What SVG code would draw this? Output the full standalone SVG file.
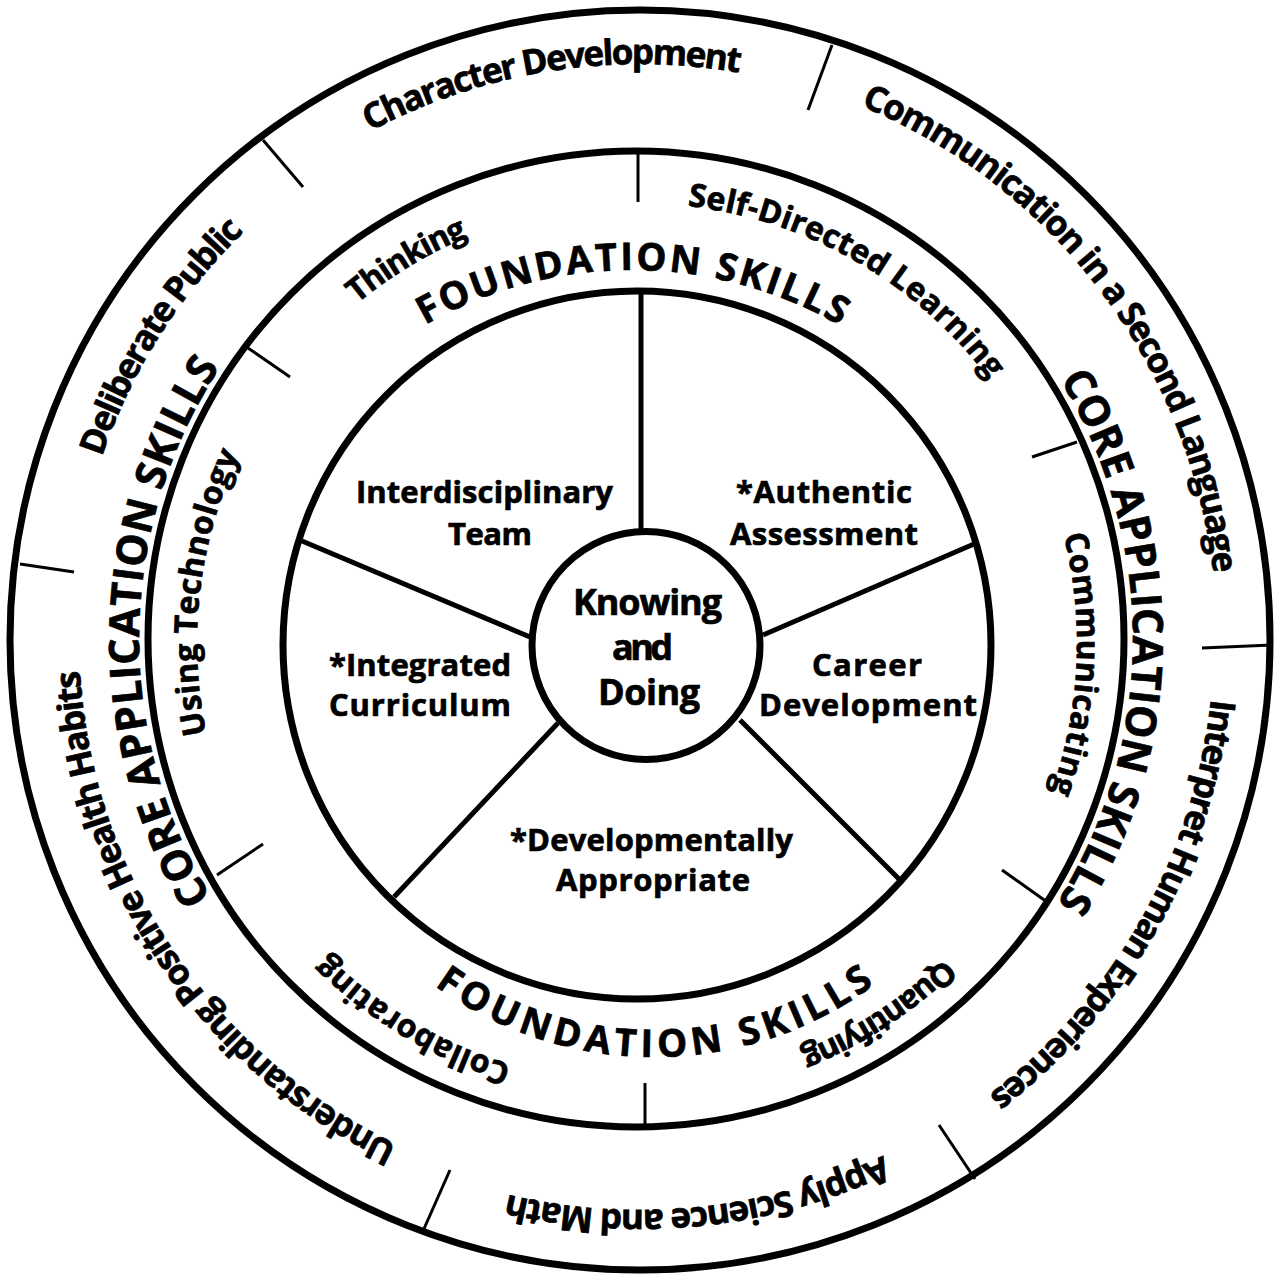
<svg xmlns="http://www.w3.org/2000/svg" xmlns:xlink="http://www.w3.org/1999/xlink" width="1277" height="1282" viewBox="0 0 1277 1282">
  <style>
    text { font-family: "Open Sans", "Liberation Sans", sans-serif; font-weight: 700; fill: #000; stroke: #000; stroke-width: 0.7px; }
    .ring { fill: none; stroke: #000; stroke-width: 7; }
    .spoke { stroke: #000; stroke-width: 5; stroke-linecap: butt; }
    .tick { stroke: #000; stroke-width: 3; }
    .o { font-size: 35px; }
    .c { font-size: 42px; }
    .f { font-size: 38px; }
    .s { font-size: 32px; }
    .w { font-size: 31px; }
    .k { font-size: 36px; }
  </style>
  <defs>
    <!-- baseline circles for curved labels, each starting at 12 o'clock -->
    <path id="p575" d="M640,64 A575,575 0 0 1 640,1214 A575,575 0 0 1 640,64"/>
    <path id="p577" d="M640,62 A577,577 0 0 1 640,1216 A577,577 0 0 1 640,62"/>
    <path id="p574" d="M640,65 A574,574 0 0 1 640,1213 A574,574 0 0 1 640,65"/>
    <path id="p571" d="M640,68 A571,571 0 0 1 640,1210 A571,571 0 0 1 640,68"/>
    <path id="p561" d="M640,78 A561,561 0 0 1 640,1200 A561,561 0 0 1 640,78"/>
    <path id="p568" d="M640,71 A568,568 0 0 1 640,1207 A568,568 0 0 1 640,71"/>
    <path id="pCore" d="M636,142 A497,497 0 0 1 636,1136 A497,497 0 0 1 636,142"/>
    <path id="pFnd" d="M637,203 A440,440 0 0 1 637,1083 A440,440 0 0 1 637,203"/>
    <path id="pTop" d="M632,270 A416,416 0 0 1 632,1102 A416,416 0 0 1 632,270"/>
    <!-- counter-clockwise circle starting at 6 o'clock, for the upright lower label -->
    <path id="pBot" d="M654,1057 A373,373 0 0 0 654,311 A373,373 0 0 0 654,1057"/>
  </defs>

  <rect width="1277" height="1282" fill="#fff"/>

  <!-- rings -->
  <g id="rings">
    <circle id="outer-ring" class="ring" cx="640" cy="640" r="630"/>
    <circle id="core-ring" class="ring" cx="636" cy="639" r="488"/>
    <circle id="foundation-ring" class="ring" cx="637" cy="645" r="354"/>
  </g>

  <!-- connectors: wheel spokes and ring dividers -->
  <g id="connectors">
    <line class="spoke" x1="641" y1="290" x2="641" y2="532"/>
    <line class="spoke" x1="302" y1="541" x2="530" y2="637"/>
    <line class="spoke" x1="763" y1="635" x2="974" y2="544"/>
    <line class="spoke" x1="558" y1="723" x2="394" y2="897"/>
    <line class="spoke" x1="740" y1="720" x2="901" y2="881"/>

    <line class="tick" x1="263" y1="140" x2="303" y2="187"/>
    <line class="tick" x1="832" y1="45" x2="808" y2="110"/>
    <line class="tick" x1="1273" y1="645" x2="1202" y2="648"/>
    <line class="tick" x1="975" y1="1179" x2="939" y2="1125"/>
    <line class="tick" x1="423" y1="1231" x2="450" y2="1170"/>
    <line class="tick" x1="20" y1="564" x2="74" y2="572"/>

    <line class="tick" x1="638" y1="151" x2="638" y2="202"/>
    <line class="tick" x1="248" y1="348" x2="290" y2="377"/>
    <line class="tick" x1="1077" y1="442" x2="1032" y2="457"/>
    <line class="tick" x1="1047" y1="902" x2="1002" y2="870"/>
    <line class="tick" x1="645" y1="1125" x2="645" y2="1083"/>
    <line class="tick" x1="217" y1="875" x2="263" y2="844"/>
  </g>

  <!-- outer ring labels -->
  <g id="character-development"><text class="o" transform="rotate(-28 640 639)"><textPath href="#p575" xlink:href="#p575" textLength="381" lengthAdjust="spacing">Character Development</textPath></text></g>
  <g id="second-language"><text class="o" transform="rotate(22.5 640 639)"><textPath href="#p577" xlink:href="#p577" textLength="614" lengthAdjust="spacing">Communication in a Second Language</textPath></text></g>
  <g id="human-experiences"><text class="o" transform="rotate(96 640 639)"><textPath href="#p574" xlink:href="#p574" textLength="467" lengthAdjust="spacing">Interpret Human Experiences</textPath></text></g>
  <g id="science-math"><text class="o" transform="rotate(154.8 640 639)"><textPath href="#p571" xlink:href="#p571" textLength="385" lengthAdjust="spacing">Apply Science and Math</textPath></text></g>
  <g id="health-habits"><text class="o" transform="rotate(205.6 640 639)"><textPath href="#p561" xlink:href="#p561" textLength="599" lengthAdjust="spacing">Understanding Positive Health Habits</textPath></text></g>
  <g id="deliberate-public"><text class="o" transform="rotate(288.7 640 639)"><textPath href="#p568" xlink:href="#p568" textLength="269" lengthAdjust="spacing">Deliberate Public</textPath></text></g>

  <!-- core application skills labels -->
  <g id="core-right"><text class="c" transform="rotate(58.5 636 639)"><textPath href="#pCore" xlink:href="#pCore" textLength="552" lengthAdjust="spacing">CORE APPLICATION SKILLS</textPath></text></g>
  <g id="core-left"><text class="c" transform="rotate(238.7 636 639)"><textPath href="#pCore" xlink:href="#pCore" textLength="559" lengthAdjust="spacing">CORE APPLICATION SKILLS</textPath></text></g>

  <!-- foundation ring labels -->
  <g id="foundation-top"><text class="f" transform="rotate(-29.8 632 686)"><textPath href="#pTop" xlink:href="#pTop" textLength="434" lengthAdjust="spacing">FOUNDATION SKILLS</textPath></text></g>
  <g id="foundation-bottom"><text class="f" transform="rotate(36 654 684)"><textPath href="#pBot" xlink:href="#pBot" textLength="470" lengthAdjust="spacing">FOUNDATION SKILLS</textPath></text></g>
  <g id="thinking"><text class="s" transform="rotate(-39.5 637 643)"><textPath href="#pFnd" xlink:href="#pFnd" textLength="130" lengthAdjust="spacing">Thinking</textPath></text></g>
  <g id="self-directed"><text class="s" transform="rotate(6.6 637 643)"><textPath href="#pFnd" xlink:href="#pFnd" textLength="358" lengthAdjust="spacing">Self-Directed Learning</textPath></text></g>
  <g id="communicating"><text class="s" transform="rotate(75.8 637 643)"><textPath href="#pFnd" xlink:href="#pFnd" textLength="261" lengthAdjust="spacing">Communicating</textPath></text></g>
  <g id="quantifying"><text class="s" transform="rotate(135.8 637 643)"><textPath href="#pFnd" xlink:href="#pFnd" textLength="172" lengthAdjust="spacing">Quantifying</textPath></text></g>
  <g id="collaborating"><text class="s" transform="rotate(196.6 637 643)"><textPath href="#pFnd" xlink:href="#pFnd" textLength="217" lengthAdjust="spacing">Collaborating</textPath></text></g>
  <g id="using-technology"><text class="s" transform="rotate(258.1 637 643)"><textPath href="#pFnd" xlink:href="#pFnd" textLength="286" lengthAdjust="spacing">Using Technology</textPath></text></g>

  <!-- wheel segments -->
  <g id="interdisciplinary-team">
    <text class="w" x="356" y="503" textLength="257" lengthAdjust="spacing">Interdisciplinary</text>
    <text class="w" x="448" y="545" textLength="84" lengthAdjust="spacing">Team</text>
  </g>
  <g id="authentic-assessment">
    <text class="w" x="736" y="503" textLength="176" lengthAdjust="spacing">*Authentic</text>
    <text class="w" x="730" y="545" textLength="188" lengthAdjust="spacing">Assessment</text>
  </g>
  <g id="integrated-curriculum">
    <text class="w" x="329" y="676" textLength="182" lengthAdjust="spacing">*Integrated</text>
    <text class="w" x="329" y="716" textLength="182" lengthAdjust="spacing">Curriculum</text>
  </g>
  <g id="career-development">
    <text class="w" x="812" y="676" textLength="110" lengthAdjust="spacing">Career</text>
    <text class="w" x="759" y="716" textLength="218" lengthAdjust="spacing">Development</text>
  </g>
  <g id="developmentally-appropriate">
    <text class="w" x="510" y="851" textLength="283" lengthAdjust="spacing">*Developmentally</text>
    <text class="w" x="556" y="891" textLength="194" lengthAdjust="spacing">Appropriate</text>
  </g>

  <!-- hub -->
  <g id="knowing-and-doing">
    <circle class="ring" cx="646" cy="645.5" r="114"/>
    <text class="k" x="573" y="615" textLength="149" lengthAdjust="spacing">Knowing</text>
    <text class="k" x="612" y="660" textLength="61" lengthAdjust="spacing">and</text>
    <text class="k" x="598" y="705" textLength="102" lengthAdjust="spacing">Doing</text>
  </g>
</svg>
